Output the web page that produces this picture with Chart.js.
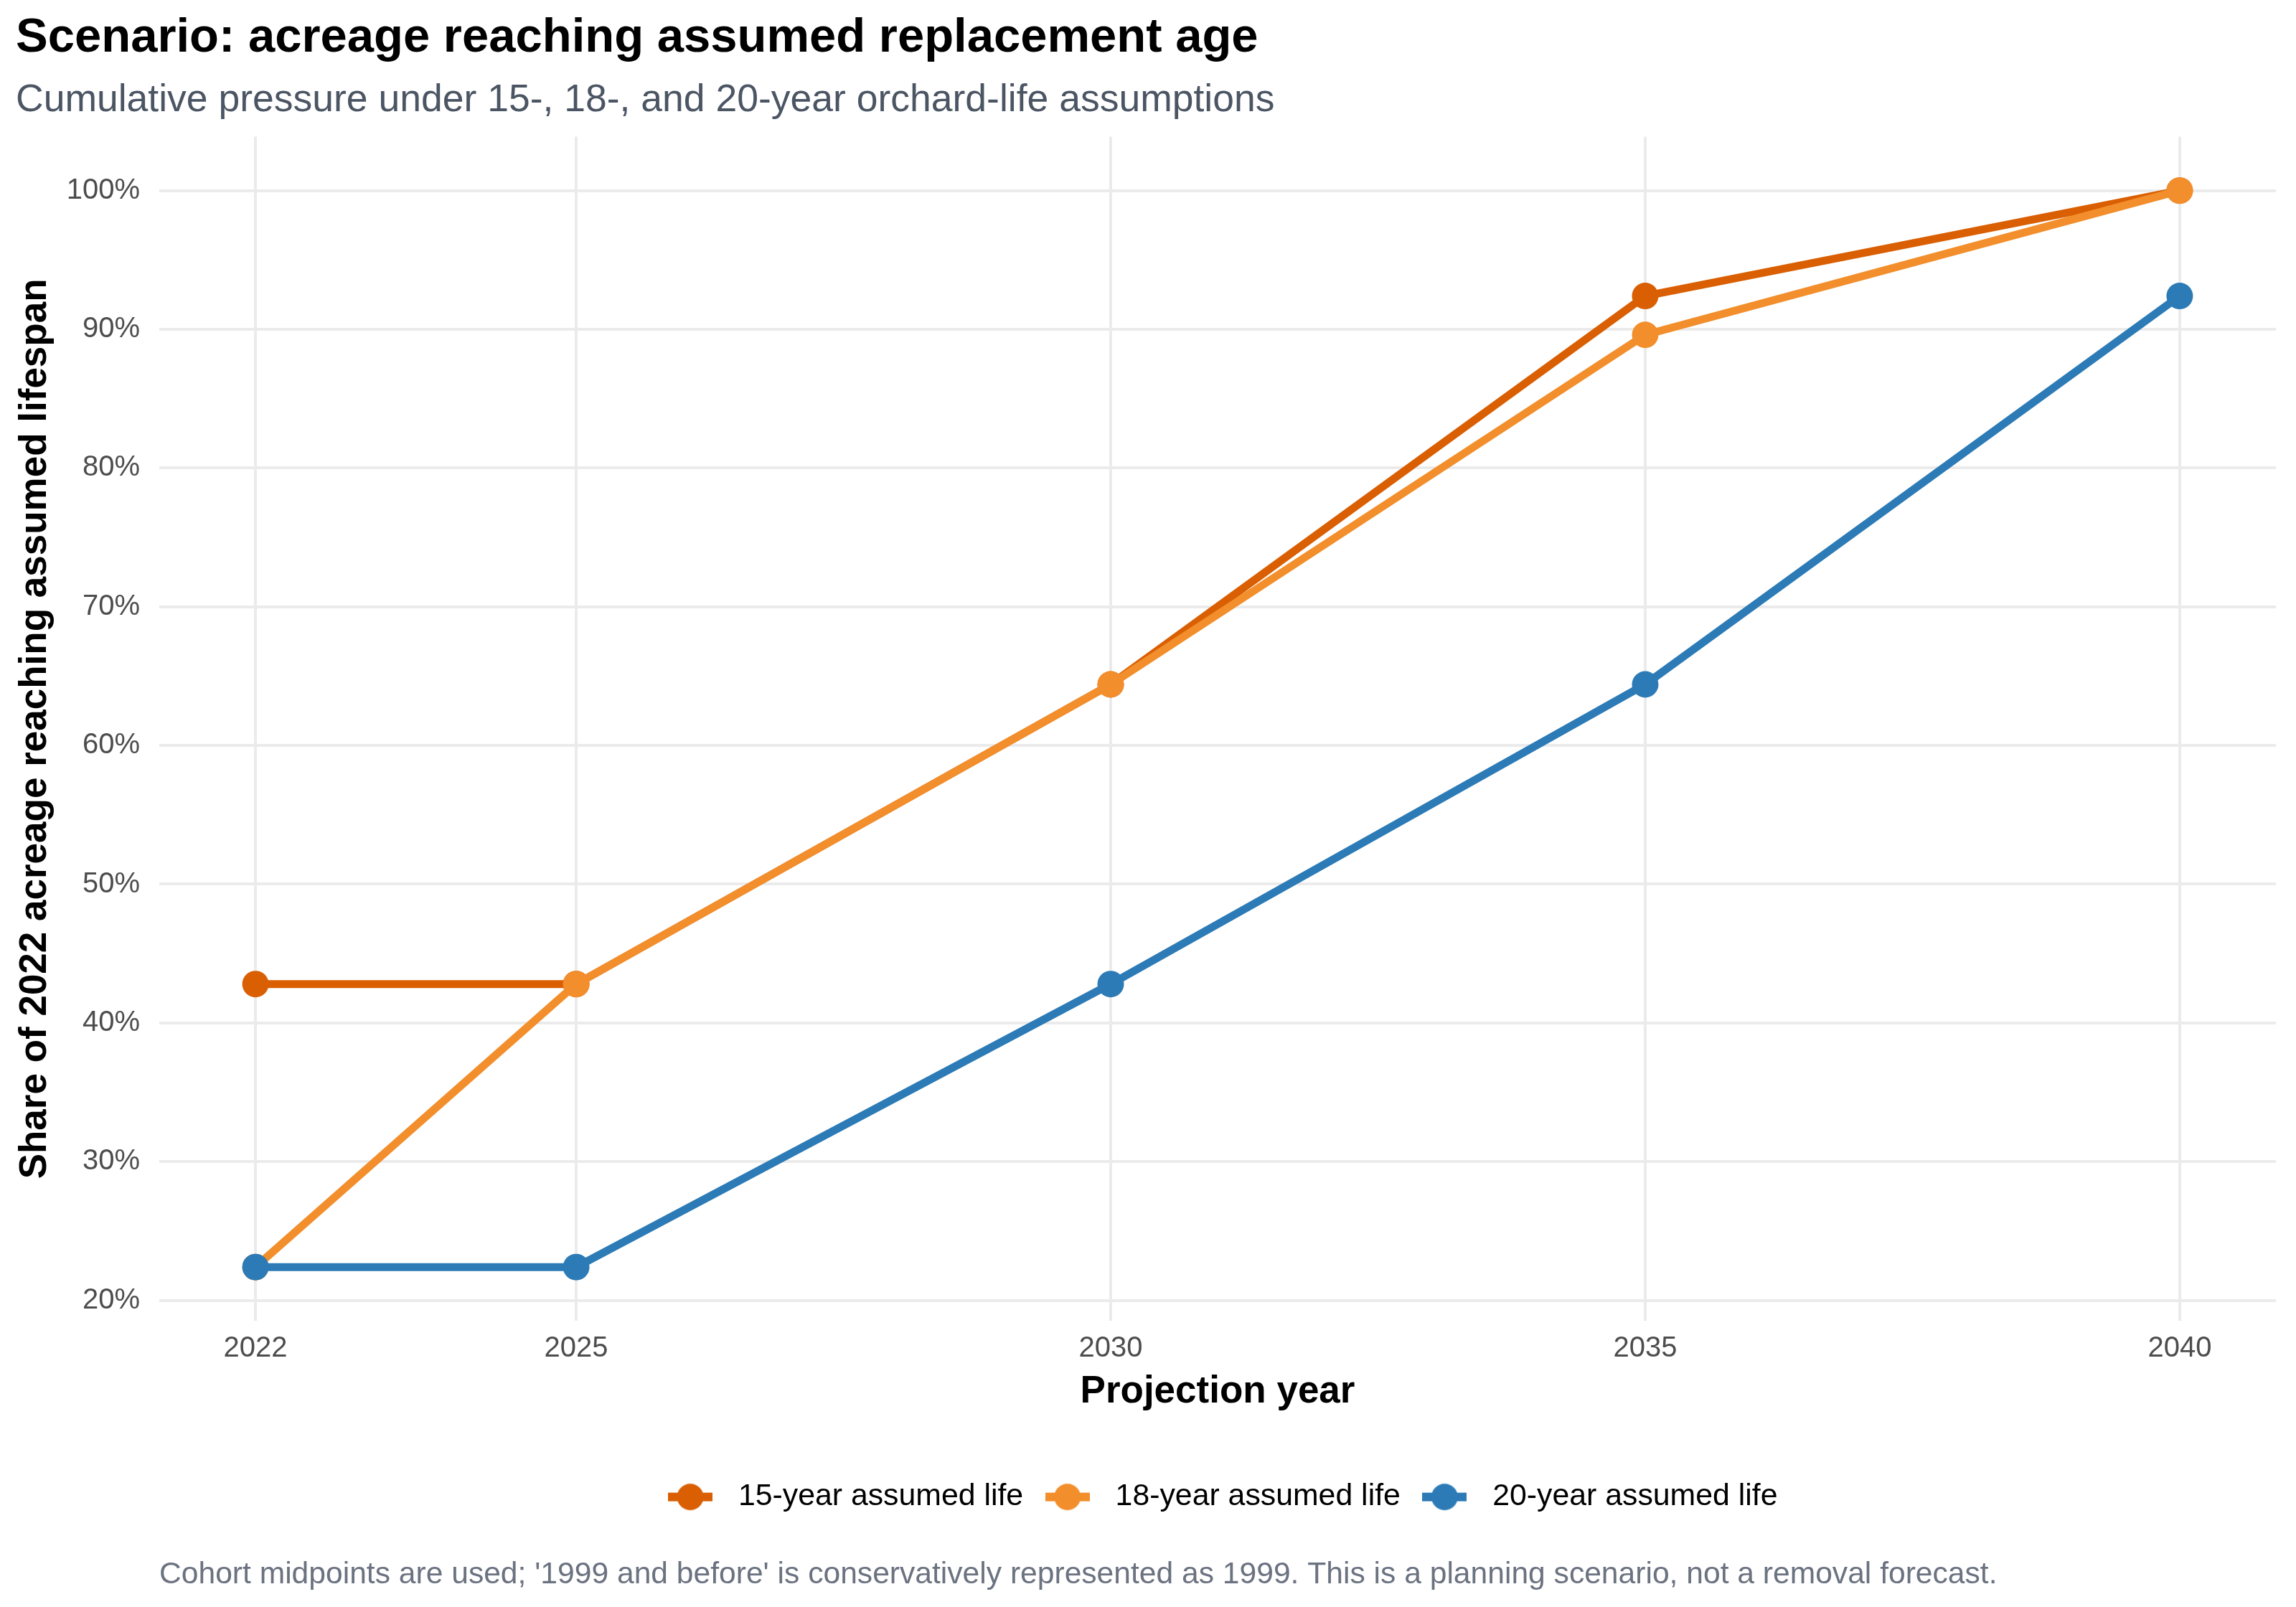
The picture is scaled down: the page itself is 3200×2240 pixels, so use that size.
<!DOCTYPE html>
<html>
<head>
<meta charset="utf-8">
<title>Scenario: acreage reaching assumed replacement age</title>
<script src="https://cdn.jsdelivr.net/npm/chart.js@4.4.1/dist/chart.umd.min.js"></script>
<style>
  html, body { margin: 0; padding: 0; background: #ffffff; }
  #wrap { width: 3200px; height: 2240px; }
</style>
</head>
<body>
<div id="wrap"><canvas id="replacementChart" width="3200" height="2240"></canvas></div>
<script>
// Data //

const years = [2022, 2025, 2030, 2035, 2040];
const life15 = [42.8, 42.8, 64.4, 92.4, 100];
const life18 = [22.4, 42.8, 64.4, 89.6, 100];
const life20 = [22.4, 22.4, 42.8, 64.4, 92.4];

const seriesNames = ['15-year assumed life', '18-year assumed life', '20-year assumed life'];
const seriesColors = ['#D95F02', '#F28E2B', '#2C7BB6'];

const xTicks = [2022, 2025, 2030, 2035, 2040];
const yTicks = [20, 30, 40, 50, 60, 70, 80, 90, 100];

const captionText = "Cohort midpoints are used; '1999 and before' is conservatively represented as 1999. This is a planning scenario, not a removal forecast.";

const FONT = "'Liberation Sans', Arial, Helvetica, sans-serif";

// legend key: line with a dot on it, like the ggplot key
function makeKey(color) {
  const c = document.createElement('canvas');
  c.width = 62;
  c.height = 40;
  const k = c.getContext('2d');
  k.fillStyle = color;
  k.fillRect(0, 14, 62, 12);
  k.beginPath();
  k.arc(31, 20, 18.5, 0, Math.PI * 2);
  k.fill();
  return c;
}
const keyImages = seriesColors.map(makeKey);

function toPoints(values) {
  return years.map((yr, i) => ({ x: yr, y: values[i] }));
}

const captionPlugin = {
  id: 'caption',
  afterDraw(chart) {
    const ctx = chart.ctx;
    ctx.save();
    ctx.font = '42.6px ' + FONT;
    ctx.fillStyle = '#6B7280';
    ctx.textAlign = 'left';
    ctx.textBaseline = 'alphabetic';
    ctx.fillText(captionText, chart.chartArea.left, chart.height - 33);
    ctx.restore();
  }
};

let replacementChart = null;

function createChart() {
  const ctx = document.querySelector('#replacementChart').getContext('2d');
  const allSeries = [life15, life18, life20];

  replacementChart = new Chart(ctx, {
    type: 'line',
    data: {
      datasets: allSeries.map((vals, i) => ({
        label: seriesNames[i],
        data: toPoints(vals),
        borderColor: seriesColors[i],
        backgroundColor: seriesColors[i],
        pointBackgroundColor: seriesColors[i],
        pointBorderWidth: 0,
        pointRadius: 18.5,
        borderWidth: 11,
        borderJoinStyle: 'round',
        tension: 0,
        order: 3 - i
      }))
    },
    options: {
      responsive: false,
      devicePixelRatio: 1,
      animation: false,
      events: [],
      layout: { padding: { top: 0, left: 22, right: 28, bottom: 122 } },
      plugins: {
        title: {
          display: true,
          text: 'Scenario: acreage reaching assumed replacement age',
          align: 'start',
          color: '#000000',
          font: { family: FONT, size: 67, weight: 'bold', lineHeight: 1.2 },
          padding: { top: 13, bottom: 0 }
        },
        subtitle: {
          display: true,
          text: 'Cumulative pressure under 15-, 18-, and 20-year orchard-life assumptions',
          align: 'start',
          color: '#4B5563',
          font: { family: FONT, size: 53.5, lineHeight: 1.2 },
          padding: { top: 15, bottom: 18 }
        },
        legend: {
          position: 'bottom',
          fullSize: false,
          labels: {
            usePointStyle: true,
            pointStyleWidth: 91,
            padding: 16,
            color: '#000000',
            font: { family: FONT, size: 42.8 },
            sort: (a, b) => a.datasetIndex - b.datasetIndex,
            generateLabels(chart) {
              const items = Chart.defaults.plugins.legend.labels.generateLabels(chart);
              items.forEach(item => { item.pointStyle = keyImages[item.datasetIndex]; });
              return items;
            }
          }
        },
        tooltip: { enabled: false }
      },
      scales: {
        x: {
          type: 'linear',
          min: 2021.1,
          max: 2040.9,
          afterBuildTicks: scale => { scale.ticks = xTicks.map(v => ({ value: v })); },
          afterFit: scale => { scale.height = 208; },
          border: { display: false },
          grid: { color: '#EBEBEB', lineWidth: 4, drawTicks: false },
          ticks: {
            color: '#4D4D4D',
            padding: 15,
            font: { family: FONT, size: 40 },
            callback: v => String(v)
          },
          title: {
            display: true,
            text: 'Projection year',
            color: '#000000',
            font: { family: FONT, size: 53, weight: 'bold', lineHeight: 1.2 },
            padding: { top: 0, bottom: 77 }
          }
        },
        y: {
          min: 18.52,
          max: 103.88,
          afterBuildTicks: scale => { scale.ticks = yTicks.map(v => ({ value: v })); },
          afterFit: scale => { scale.width = 200; },
          border: { display: false },
          grid: { color: '#EBEBEB', lineWidth: 4, drawTicks: false },
          ticks: {
            color: '#4D4D4D',
            padding: 27,
            font: { family: FONT, size: 40 },
            callback: v => v + '%'
          },
          title: {
            display: true,
            text: 'Share of 2022 acreage reaching assumed lifespan',
            color: '#000000',
            font: { family: FONT, size: 53, weight: 'bold', lineHeight: 1 },
            padding: { top: 0.5, bottom: 0 }
          }
        }
      }
    },
    plugins: [captionPlugin]
  });
}

document.addEventListener('DOMContentLoaded', () => {
  if (typeof Chart === 'undefined') {
    console.error('Chart.js not available.');
    return;
  }
  createChart();
});
</script>
</body>
</html>
